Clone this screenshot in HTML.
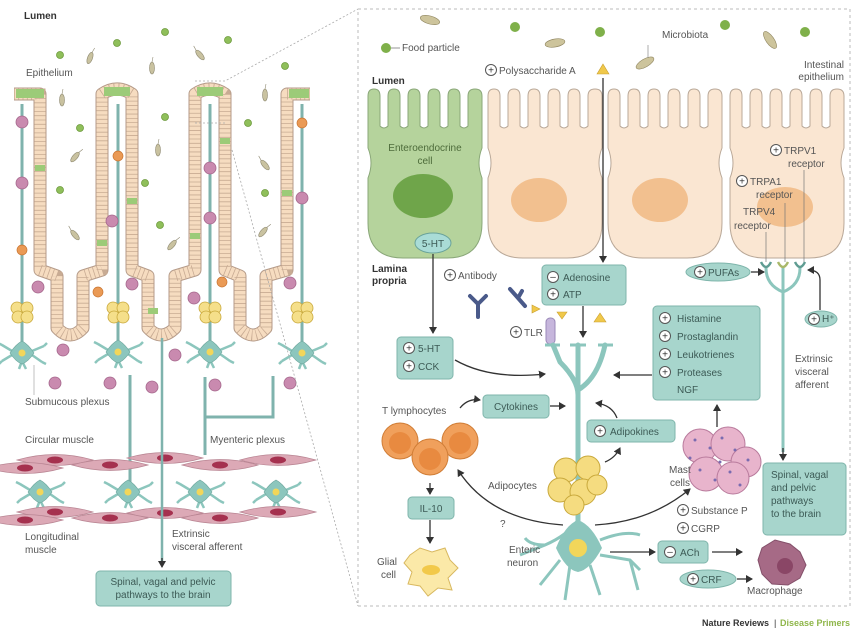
<!DOCTYPE html>
<html><head><meta charset="utf-8"><style>
html,body{margin:0;padding:0;background:#fff;}
svg{display:block;font-family:"Liberation Sans",sans-serif;}
.t{font-size:10px;fill:#555;}
.b{font-size:10px;fill:#333;font-weight:bold;}
.bx{fill:#a7d5cc;stroke:#7fb5ab;stroke-width:1;}
.bt{font-size:10px;fill:#3c5a55;}
.ln{stroke:#333;stroke-width:1.3;fill:none;}
.core{stroke:#7fb3ad;stroke-width:3;fill:none;}
</style></head><body>
<svg width="865" height="633" viewBox="0 0 865 633" xmlns="http://www.w3.org/2000/svg">
<defs>
<marker id="ar" markerWidth="8" markerHeight="8" refX="6" refY="4" orient="auto" markerUnits="userSpaceOnUse"><path d="M0,0 L7,4 L0,8 Z" fill="#333"/></marker>
<path id="cell" d="M0,60 L0,8 Q0,1 6,1 Q12,1 12,8 L12,38 Q16,42 20,38 L20,8 Q20,1 26,1 Q32,1 32,8 L32,38 Q36,42 40,38 L40,8 Q40,1 46,1 Q52,1 52,8 L52,38 Q56,42 60,38 L60,8 Q60,1 66,1 Q72,1 72,8 L72,38 Q76,42 80,38 L80,8 Q80,1 86,1 Q92,1 92,8 L92,38 Q96,42 100,38 L100,8 Q100,1 107,1 Q114,1 114,8 L114,60 Q108,75 114,90 L114,135 Q114,170 79,170 L35,170 Q0,170 0,135 L0,90 Q6,75 0,60 Z"/>
<g id="pl"><circle r="5.5" fill="#fff" stroke="#555" stroke-width="1"/><text y="3.5" text-anchor="middle" font-size="10" fill="#333">+</text></g>
<g id="mi"><circle r="5.5" fill="#fff" stroke="#555" stroke-width="1"/><text y="3" text-anchor="middle" font-size="10" fill="#333">–</text></g>
<g id="neu"><path d="M-10,-2 L-20,-8 M-10,2 L-20,8 M10,-2 L22,-7 M10,2 L20,9 M0,8 L-3,16 M0,8 L4,16 M-20,-8 l-4,-2 M-20,8 l-3,3 M22,-7 l3,-3 M20,9 l4,2" stroke="#8cc6bd" stroke-width="2.5" fill="none"/><path d="M-12,0 Q-6,-9 0,-12 Q6,-9 12,0 Q6,9 0,11 Q-6,9 -12,0Z" fill="#8cc6bd" stroke="#6aa39a" stroke-width=".6"/><circle r="3.5" fill="#f2d65a"/></g>
<g id="adi"><circle cx="-5" cy="-4" r="6" fill="#f5df8a" stroke="#c9a93c" stroke-width=".8"/><circle cx="5" cy="-4" r="6" fill="#f5df8a" stroke="#c9a93c" stroke-width=".8"/><circle cx="-4" cy="5" r="6" fill="#f5df8a" stroke="#c9a93c" stroke-width=".8"/><circle cx="5" cy="5" r="6" fill="#f5df8a" stroke="#c9a93c" stroke-width=".8"/></g>
<g id="spin"><path d="M-38,0 Q0,-11 38,0 Q0,11 -38,0Z" fill="#dca9b6" stroke="#b98593" stroke-width=".7"/><ellipse rx="8" ry="3.5" fill="#a5314f"/></g>
<g id="dot"><circle r="3.5" fill="#8fbf5a" stroke="#6d9a3c" stroke-width=".8"/></g>
<g id="mic"><ellipse rx="2.5" ry="6" fill="#c9c2a0" stroke="#8d8870" stroke-width=".6"/><line x1="0" y1="-6" x2="1" y2="-11" stroke="#8d8870" stroke-width=".6"/></g>
<g id="imm"><circle r="6" fill="#c98aaf" stroke="#a5678c" stroke-width=".8"/></g>
<g id="org"><circle r="5" fill="#ea9a55" stroke="#c97430" stroke-width=".7"/></g>
</defs>

<!-- LEFT PANEL -->
<text x="24" y="19" class="b">Lumen</text>
<text x="26" y="76" class="t">Epithelium</text>
<g>
<use href="#dot" x="165" y="32"/><use href="#dot" x="117" y="43"/><use href="#dot" x="228" y="40"/><use href="#dot" x="60" y="55"/><use href="#dot" x="285" y="66"/><use href="#dot" x="165" y="117"/><use href="#dot" x="80" y="128"/><use href="#dot" x="248" y="123"/><use href="#dot" x="60" y="190"/><use href="#dot" x="145" y="183"/><use href="#dot" x="160" y="225"/><use href="#dot" x="265" y="193"/>
<use href="#mic" transform="translate(90,58) rotate(20)"/><use href="#mic" transform="translate(152,68)"/><use href="#mic" transform="translate(200,55) rotate(-40)"/><use href="#mic" transform="translate(265,95)"/><use href="#mic" transform="translate(62,100)"/><use href="#mic" transform="translate(75,157) rotate(40)"/><use href="#mic" transform="translate(158,150)"/><use href="#mic" transform="translate(265,165) rotate(-40)"/><use href="#mic" transform="translate(75,235) rotate(-40)"/><use href="#mic" transform="translate(172,245) rotate(40)"/><use href="#mic" transform="translate(263,232) rotate(40)"/>
</g>
<g class="core"><line x1="22" y1="104" x2="22" y2="345"/><line x1="118" y1="104" x2="118" y2="345"/><line x1="210" y1="104" x2="210" y2="345"/><line x1="302" y1="104" x2="302" y2="345"/></g>
<path d="M14,94 L40,94 L40,270 L57,276 L57,328 Q70,342 83,328 L83,276 L102,270 L102,94 Q117,84 132,94 L132,270 L148,276 L148,328 Q161,342 175,328 L175,276 L195,270 L195,94 Q210,84 225,94 L225,270 L240,276 L240,328 Q253,342 266,328 L266,276 L287,270 L287,94 L310,94" fill="none" stroke="#b49a88" stroke-width="13" stroke-linejoin="round"/>
<path d="M14,94 L40,94 L40,270 L57,276 L57,328 Q70,342 83,328 L83,276 L102,270 L102,94 Q117,84 132,94 L132,270 L148,276 L148,328 Q161,342 175,328 L175,276 L195,270 L195,94 Q210,84 225,94 L225,270 L240,276 L240,328 Q253,342 266,328 L266,276 L287,270 L287,94 L310,94" fill="none" stroke="#f6dcc0" stroke-width="11" stroke-linejoin="round"/>
<path d="M14,94 L40,94 L40,270 L57,276 L57,328 Q70,342 83,328 L83,276 L102,270 L102,94 Q117,84 132,94 L132,270 L148,276 L148,328 Q161,342 175,328 L175,276 L195,270 L195,94 Q210,84 225,94 L225,270 L240,276 L240,328 Q253,342 266,328 L266,276 L287,270 L287,94 L310,94" fill="none" stroke="#c8ab93" stroke-width="11" stroke-dasharray="0.8 3.5"/>
<g fill="#9ccb78"><rect x="16" y="89" width="28" height="9"/><rect x="104" y="87" width="26" height="9"/><rect x="197" y="87" width="26" height="9"/><rect x="289" y="89" width="20" height="9"/>
<rect x="35" y="165" width="10" height="6"/><rect x="127" y="198" width="10" height="6"/><rect x="190" y="233" width="10" height="6"/><rect x="220" y="138" width="10" height="6"/><rect x="282" y="190" width="10" height="6"/><rect x="97" y="240" width="10" height="6"/><rect x="148" y="308" width="10" height="6"/></g>
<use href="#imm" x="22" y="122"/><use href="#imm" x="22" y="183"/><use href="#org" x="22" y="250"/><use href="#org" x="118" y="156"/><use href="#imm" x="112" y="221"/><use href="#imm" x="210" y="168"/><use href="#imm" x="210" y="218"/><use href="#org" x="302" y="123"/><use href="#imm" x="302" y="198"/>
<use href="#imm" x="38" y="287"/><use href="#org" x="98" y="292"/><use href="#imm" x="132" y="284"/><use href="#imm" x="194" y="298"/><use href="#org" x="222" y="282"/><use href="#imm" x="290" y="283"/>
<use href="#adi" x="22" y="312"/><use href="#adi" x="118" y="312"/><use href="#adi" x="210" y="312"/><use href="#adi" x="302" y="312"/>
<use href="#neu" x="22" y="353"/><use href="#neu" x="118" y="352"/><use href="#neu" x="210" y="352"/><use href="#neu" x="302" y="353"/>
<use href="#imm" x="63" y="350"/><use href="#imm" x="55" y="383"/><use href="#imm" x="110" y="383"/><use href="#imm" x="152" y="387"/><use href="#imm" x="175" y="355"/><use href="#imm" x="215" y="385"/><use href="#imm" x="290" y="383"/>
<line x1="34" y1="365" x2="34" y2="395" stroke="#999" stroke-width=".6"/>
<text x="25" y="405" class="t">Submucous plexus</text>
<g class="core" stroke-width="2.5"><line x1="130" y1="375" x2="130" y2="485"/><line x1="205" y1="377" x2="205" y2="455"/><polyline points="273,376 273,417 205,417"/></g>
<text x="25" y="443" class="t">Circular muscle</text>
<text x="210" y="443" class="t">Myenteric plexus</text>
<g><use href="#spin" x="55" y="460"/><use href="#spin" x="110" y="465"/><use href="#spin" x="165" y="458"/><use href="#spin" x="220" y="465"/><use href="#spin" x="278" y="460"/><use href="#spin" x="25" y="468"/></g>
<use href="#neu" x="40" y="492"/><use href="#neu" x="128" y="492"/><use href="#neu" x="200" y="492"/><use href="#neu" x="276" y="492"/>
<g><use href="#spin" x="55" y="512"/><use href="#spin" x="110" y="518"/><use href="#spin" x="165" y="513"/><use href="#spin" x="220" y="518"/><use href="#spin" x="278" y="512"/><use href="#spin" x="25" y="520"/></g>
<line x1="162" y1="338" x2="162" y2="565" stroke="#7fb3ad" stroke-width="2.5"/>
<line x1="162" y1="558" x2="162" y2="567" class="ln" marker-end="url(#ar)"/>
<text x="25" y="540" class="t">Longitudinal</text><text x="25" y="553" class="t">muscle</text>
<text x="172" y="537" class="t">Extrinsic</text><text x="172" y="550" class="t">visceral afferent</text>
<rect x="96" y="571" width="135" height="35" rx="4" class="bx"/>
<text x="163" y="585" text-anchor="middle" class="bt">Spinal, vagal and pelvic</text>
<text x="163" y="598" text-anchor="middle" class="bt">pathways to the brain</text>
<g stroke="#aaa" stroke-dasharray="2 2" fill="none" stroke-width=".8"><polyline points="195,81 225,81 358,9"/><polyline points="195,123 225,123"/><line x1="232" y1="150" x2="358" y2="606"/></g>

<!-- RIGHT PANEL -->
<rect x="358" y="9" width="492" height="597" fill="none" stroke="#bbb" stroke-dasharray="3 3"/>
<circle cx="386" cy="48" r="5" fill="#7fb04a"/>
<line x1="391" y1="48" x2="400" y2="48" stroke="#666" stroke-width=".7"/>
<text x="402" y="51" class="t">Food particle</text>
<circle cx="515" cy="27" r="5" fill="#7fb04a"/><circle cx="600" cy="32" r="5" fill="#7fb04a"/><circle cx="725" cy="25" r="5" fill="#7fb04a"/><circle cx="805" cy="32" r="5" fill="#7fb04a"/>
<g fill="#cdc49c" stroke="#908660" stroke-width=".6"><ellipse cx="430" cy="20" rx="10" ry="4" transform="rotate(15 430 20)"/><ellipse cx="555" cy="43" rx="10" ry="4" transform="rotate(-10 555 43)"/><ellipse cx="645" cy="63" rx="10" ry="4" transform="rotate(-30 645 63)"/><ellipse cx="770" cy="40" rx="4" ry="10" transform="rotate(-35 770 40)"/></g>
<text x="662" y="38" class="t">Microbiota</text>
<line x1="648" y1="45" x2="648" y2="58" stroke="#777" stroke-width=".6"/>
<use href="#pl" x="491" y="70"/><text x="499" y="74" class="t">Polysaccharide A</text>
<path d="M603,64 L609,74 L597,74Z" fill="#f0c84a" stroke="#c9a030" stroke-width=".6"/>
<text x="844" y="68" text-anchor="end" class="t">Intestinal</text><text x="844" y="80" text-anchor="end" class="t">epithelium</text>
<text x="372" y="84" class="b">Lumen</text>
<use href="#cell" x="368" y="88" fill="#b5d39c" stroke="#8aa779" stroke-width="1"/>
<use href="#cell" x="488" y="88" fill="#fae6d2" stroke="#b9a898" stroke-width="1"/>
<use href="#cell" x="608" y="88" fill="#fae6d2" stroke="#b9a898" stroke-width="1"/>
<use href="#cell" x="730" y="88" fill="#fae6d2" stroke="#b9a898" stroke-width="1"/>
<ellipse cx="423" cy="196" rx="30" ry="22" fill="#6fa54a"/>
<ellipse cx="539" cy="200" rx="28" ry="22" fill="#f2c08f"/>
<ellipse cx="660" cy="200" rx="28" ry="22" fill="#f2c08f"/>
<ellipse cx="785" cy="207" rx="28" ry="20" fill="#f2c08f"/>
<text x="425" y="151" text-anchor="middle" font-size="10" fill="#4d6b3a">Enteroendocrine</text>
<text x="425" y="164" text-anchor="middle" font-size="10" fill="#4d6b3a">cell</text>
<ellipse cx="433" cy="243" rx="18" ry="10" fill="#a9dcd6" stroke="#6aa39a"/>
<text x="433" y="247" text-anchor="middle" class="bt" font-size="9">5-HT</text>
<use href="#pl" x="776" y="150"/><text x="784" y="154" class="t">TRPV1</text><text x="788" y="167" class="t">receptor</text>
<use href="#pl" x="742" y="181"/><text x="750" y="185" class="t">TRPA1</text><text x="756" y="198" class="t">receptor</text>
<text x="743" y="215" class="t">TRPV4</text><text x="734" y="229" class="t">receptor</text>
<g stroke="#777" stroke-width=".7"><line x1="804" y1="170" x2="804" y2="262"/><line x1="785" y1="203" x2="785" y2="262"/><line x1="766" y1="232" x2="766" y2="262"/></g>
<line x1="603" y1="78" x2="603" y2="262" class="ln" marker-end="url(#ar)"/>
<line x1="433" y1="254" x2="433" y2="333" class="ln" marker-end="url(#ar)"/>
<text x="372" y="272" class="b">Lamina</text><text x="372" y="284" class="b">propria</text>
<use href="#pl" x="450" y="275"/><text x="458" y="279" class="t">Antibody</text>
<g stroke="#4a5a8a" stroke-width="4" fill="none" stroke-linecap="round"><path d="M478,317 L478,304 L470,296 M478,304 L486,296"/><path d="M518,298 L510,289 M518,298 L522,291 M518,298 L525,306"/></g>
<rect x="542" y="265" width="84" height="40" rx="4" class="bx"/>
<use href="#mi" x="553" y="277"/><text x="563" y="281" class="bt">Adenosine</text>
<use href="#pl" x="553" y="294"/><text x="563" y="298" class="bt">ATP</text>
<line x1="583" y1="306" x2="583" y2="337" class="ln" marker-end="url(#ar)"/>
<g fill="#f0c84a" stroke="#c9a030" stroke-width=".6"><path d="M532,305 L540,309 L532,313Z"/><path d="M557,312 L567,312 L562,319Z"/><path d="M600,313 L606,322 L594,322Z"/></g>
<use href="#pl" x="516" y="332"/><text x="524" y="336" class="t">TLR</text>
<rect x="546" y="318" width="9" height="26" rx="4" fill="#c6b6dc" stroke="#9a88b8"/>
<g stroke="#8cc6bd" stroke-width="5" fill="none" stroke-linecap="round">
<path d="M578,475 L578,395 Q578,380 560,362 L553,345"/>
<path d="M578,395 L578,345"/>
<path d="M578,390 Q598,378 605,345"/>
<path d="M578,548 L578,478"/>
</g>
<g stroke="#8cc6bd" stroke-width="3"><line x1="545" y1="345" x2="560" y2="345"/><line x1="570" y1="345" x2="586" y2="345"/><line x1="598" y1="345" x2="613" y2="345"/></g>
<rect x="397" y="337" width="56" height="42" rx="4" class="bx"/>
<use href="#pl" x="409" y="348"/><text x="418" y="352" class="bt">5-HT</text>
<use href="#pl" x="409" y="366"/><text x="418" y="370" class="bt">CCK</text>
<path d="M455,360 Q490,380 545,374" class="ln" marker-end="url(#ar)"/>
<rect x="653" y="306" width="107" height="94" rx="4" class="bx"/>
<use href="#pl" x="665" y="318"/><text x="677" y="322" class="bt">Histamine</text>
<use href="#pl" x="665" y="336"/><text x="677" y="340" class="bt">Prostaglandin</text>
<use href="#pl" x="665" y="354"/><text x="677" y="358" class="bt">Leukotrienes</text>
<use href="#pl" x="665" y="372"/><text x="677" y="376" class="bt">Proteases</text>
<text x="677" y="393" class="bt">NGF</text>
<line x1="652" y1="375" x2="614" y2="375" class="ln" marker-end="url(#ar)"/>
<ellipse cx="718" cy="272" rx="32" ry="9" fill="#a7d5cc" stroke="#7fb5ab"/>
<use href="#pl" x="700" y="272"/><text x="708" y="276" class="bt">PUFAs</text>
<line x1="751" y1="272" x2="764" y2="272" class="ln" marker-end="url(#ar)"/>
<g stroke="#8cc6bd" stroke-width="3" fill="none"><path d="M766,268 Q766,285 783,292 M800,268 Q800,285 783,292 M783,268 L783,295"/><line x1="783" y1="292" x2="783" y2="452"/></g>
<g fill="none" stroke-width="2.5"><path d="M761,262 Q766,272 771,262" stroke="#5f9c92"/><path d="M778,262 Q783,272 788,262" stroke="#a9b86a"/><path d="M795,262 Q800,272 805,262" stroke="#5f9c92"/></g>
<ellipse cx="821" cy="319" rx="16" ry="8" fill="#a7d5cc" stroke="#7fb5ab"/>
<use href="#pl" x="814" y="319"/><text x="822" y="322" class="bt" font-size="8">H⁺</text>
<path d="M820,310 L820,280 Q820,270 808,270" class="ln" marker-end="url(#ar)"/>
<text x="795" y="362" class="t">Extrinsic</text><text x="795" y="375" class="t">visceral</text><text x="795" y="388" class="t">afferent</text>
<line x1="783" y1="448" x2="783" y2="460" class="ln" marker-end="url(#ar)"/>
<rect x="763" y="463" width="83" height="72" rx="4" class="bx"/>
<text x="771" y="478" class="bt">Spinal, vagal</text><text x="771" y="491" class="bt">and pelvic</text><text x="771" y="504" class="bt">pathways</text><text x="771" y="517" class="bt">to the brain</text>
<text x="382" y="414" class="t">T lymphocytes</text>
<path d="M460,408 Q468,398 480,400" class="ln" marker-end="url(#ar)"/>
<rect x="483" y="395" width="66" height="23" rx="4" class="bx"/>
<text x="516" y="410" text-anchor="middle" class="bt">Cytokines</text>
<line x1="550" y1="406" x2="565" y2="406" class="ln" marker-end="url(#ar)"/>
<g fill="#f0a05c" stroke="#d07d36" stroke-width="1"><circle cx="400" cy="441" r="18"/><circle cx="460" cy="441" r="18"/><circle cx="430" cy="457" r="18"/></g>
<g fill="#e88a40"><circle cx="400" cy="443" r="11"/><circle cx="460" cy="443" r="11"/><circle cx="430" cy="459" r="11"/></g>
<rect x="587" y="420" width="88" height="22" rx="4" class="bx"/>
<use href="#pl" x="600" y="431"/><text x="610" y="435" class="bt">Adipokines</text>
<path d="M617,418 Q612,405 596,403" class="ln" marker-end="url(#ar)"/>
<path d="M605,462 Q615,458 620,448" class="ln" marker-end="url(#ar)"/>
<g fill="#f5dc80" stroke="#c9a93c" stroke-width="1"><circle cx="566" cy="470" r="12"/><circle cx="588" cy="468" r="12"/><circle cx="560" cy="490" r="12"/><circle cx="583" cy="492" r="13"/><circle cx="597" cy="485" r="10"/><circle cx="574" cy="505" r="10"/></g>
<text x="488" y="489" class="t">Adipocytes</text>
<g fill="#e8b4cc" stroke="#b87a9c" stroke-width="1"><circle cx="700" cy="446" r="17"/><circle cx="728" cy="444" r="17"/><circle cx="746" cy="462" r="15"/><circle cx="706" cy="474" r="17"/><circle cx="733" cy="478" r="16"/></g>
<g fill="#7a6bb0"><circle cx="695" cy="440" r="1.5"/><circle cx="710" cy="448" r="1.5"/><circle cx="722" cy="438" r="1.5"/><circle cx="735" cy="450" r="1.5"/><circle cx="748" cy="460" r="1.5"/><circle cx="700" cy="470" r="1.5"/><circle cx="715" cy="480" r="1.5"/><circle cx="730" cy="472" r="1.5"/><circle cx="740" cy="485" r="1.5"/><circle cx="690" cy="458" r="1.5"/><circle cx="720" cy="462" r="1.5"/></g>
<text x="669" y="473" class="t">Mast</text><text x="670" y="486" class="t">cells</text>
<line x1="717" y1="427" x2="717" y2="405" class="ln" marker-end="url(#ar)"/>
<line x1="430" y1="483" x2="430" y2="494" class="ln" marker-end="url(#ar)"/>
<rect x="408" y="497" width="46" height="22" rx="4" class="bx"/>
<text x="431" y="512" text-anchor="middle" class="bt">IL-10</text>
<line x1="430" y1="520" x2="430" y2="543" class="ln" marker-end="url(#ar)"/>
<path d="M410,555 L420,548 L432,552 L445,548 L450,560 L458,568 L448,578 L452,590 L438,588 L428,596 L420,586 L408,584 L412,572 L404,563Z" fill="#fbe9a8" stroke="#d8b860" stroke-width="1"/>
<ellipse cx="431" cy="570" rx="9" ry="5" fill="#f2c94a"/>
<text x="377" y="565" class="t">Glial</text><text x="381" y="578" class="t">cell</text>
<path d="M578,520 Q568,535 545,545 L520,555 M545,545 Q530,545 525,538 M560,560 L540,585 M570,565 L565,600 M590,565 L600,595 M600,555 L630,560 L640,570 M600,540 Q625,530 640,535 M630,560 L638,590" stroke="#8cc6bd" stroke-width="3" fill="none"/>
<path d="M556,548 Q565,525 578,520 Q592,525 602,548 Q590,570 578,572 Q566,570 556,548Z" fill="#8cc6bd"/>
<circle cx="578" cy="548" r="9" fill="#f2d65a"/>
<text x="509" y="553" class="t">Enteric</text><text x="507" y="566" class="t">neuron</text>
<text x="500" y="527" class="t">?</text>
<path d="M563,525 Q490,520 458,470" class="ln" marker-end="url(#ar)"/>
<path d="M595,525 Q650,522 690,489" class="ln" marker-end="url(#ar)"/>
<use href="#pl" x="683" y="510"/><text x="691" y="514" class="t">Substance P</text>
<use href="#pl" x="683" y="528"/><text x="691" y="532" class="t">CGRP</text>
<line x1="610" y1="552" x2="655" y2="552" class="ln" marker-end="url(#ar)"/>
<rect x="658" y="541" width="50" height="22" rx="4" class="bx"/>
<use href="#mi" x="670" y="552"/><text x="680" y="556" class="bt">ACh</text>
<line x1="712" y1="552" x2="742" y2="552" class="ln" marker-end="url(#ar)"/>
<ellipse cx="708" cy="579" rx="28" ry="9" fill="#a7d5cc" stroke="#7fb5ab"/>
<use href="#pl" x="693" y="579"/><text x="701" y="583" class="bt">CRF</text>
<line x1="737" y1="579" x2="752" y2="579" class="ln" marker-end="url(#ar)"/>
<path d="M762,548 L775,540 L790,544 L800,552 L806,565 L800,578 L788,585 L772,584 L762,574 L758,560Z" fill="#a66a86" stroke="#84506a"/>
<circle cx="785" cy="566" r="8" fill="#8a4666"/>
<text x="747" y="594" class="t">Macrophage</text>
<text x="702" y="626" font-size="9" font-weight="bold" fill="#333">Nature Reviews</text>
<text x="774" y="626" font-size="9" fill="#333">|</text>
<text x="780" y="626" font-size="9" font-weight="bold" fill="#8fb64a">Disease Primers</text>
</svg>
</body></html>
